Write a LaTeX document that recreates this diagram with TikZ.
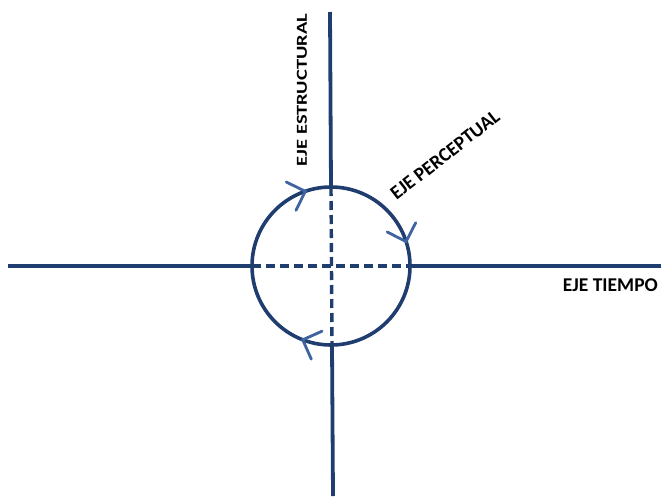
\documentclass[tikz,border=0pt]{standalone}
\usepackage{fontspec}
\setmainfont{Carlito}
\definecolor{axisblue}{HTML}{1F3D6E}
\definecolor{arrowblue}{HTML}{3F63A0}
\tikzset{
  axis/.style={draw=axisblue,line width=3.8pt},
  dash axis/.style={draw=axisblue,line width=3.4pt,dash pattern=on 9pt off 5pt},
  lbl/.style={font=\fontsize{19.5}{21}\selectfont\bfseries,text=black,inner sep=0pt},
  chev/.style={draw=arrowblue,line width=2.8pt,line cap=round,line join=miter},
}
\begin{document}
\begin{tikzpicture}[x=1pt,y=-1pt]
\useasboundingbox (0,0) rectangle (661,498);
\coordinate (O) at (331,266);
\coordinate (L) at (8,266);
\coordinate (R) at (661,266);
\coordinate (T) at (330,12);
\coordinate (B) at (333,496);
\coordinate (CL) at (252,266);
\coordinate (CR) at (410,266);
\coordinate (CT) at (331,187);
\coordinate (CB) at (332,345);
% axes
\draw[axis] (L) -- (CL);
\draw[axis] (CR) -- (R);
\draw[axis] (T) -- (CT);
\draw[axis] (CB) -- (B);
\draw[dash axis] (CL) -- (CR);
\draw[dash axis] (CT) -- (CB);
% circle
\draw[axis,line width=3.6pt] (O) circle[radius=79];
% clockwise chevrons on the circle
\coordinate (A1) at (406.1,241.6);
\coordinate (A2) at (305.3,191.3);
\coordinate (A3) at (302.7,339.8);
\draw[chev,shift={(A1)},rotate=-72] (-15,-15) -- (0,0) -- (-15,15);
\draw[chev,shift={(A2)},rotate=19] (-15,-15) -- (0,0) -- (-15,15);
\draw[chev,shift={(A3)},rotate=159] (-15,-15) -- (0,0) -- (-15,15);
% labels
\node[lbl,rotate=90] (estr) at (302,90) {\scalebox{1.05}[0.78]{EJE ESTRUCTURAL}};
\node[lbl,rotate=38] (perc) at (445,155) {EJE PERCEPTUAL};
\node[lbl,anchor=east] (tiem) at (658,285) {EJE TIEMPO};
\end{tikzpicture}
\end{document}
